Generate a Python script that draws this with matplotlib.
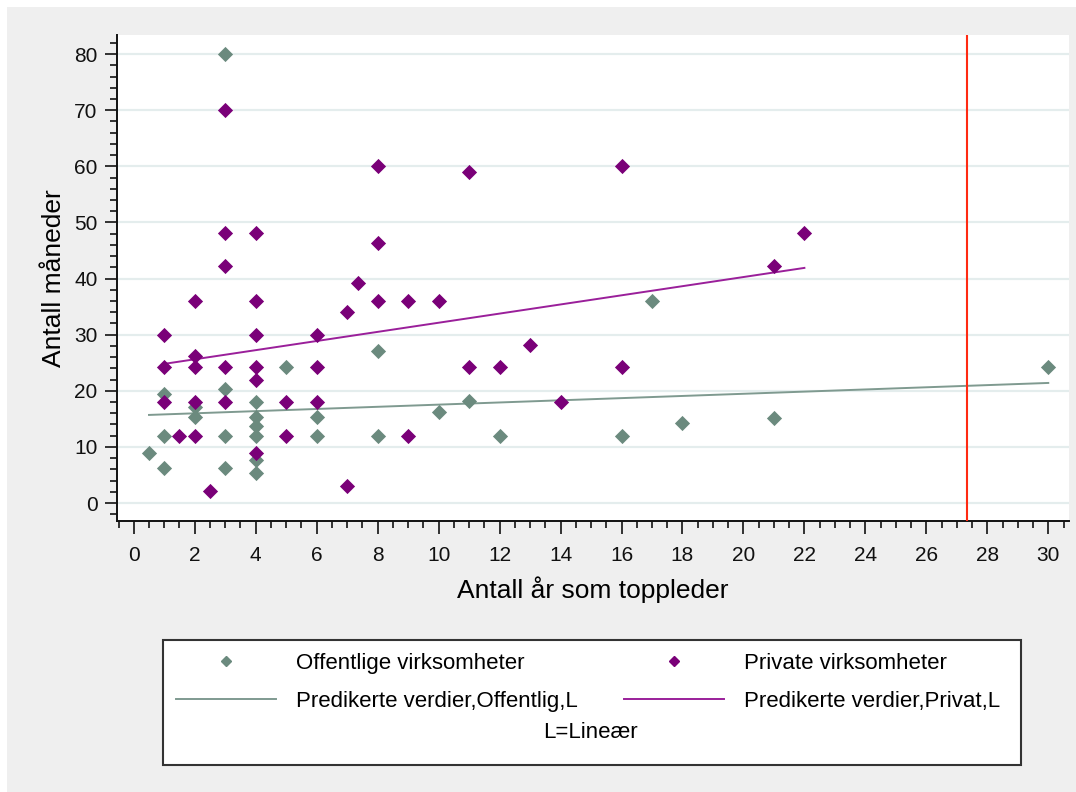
import matplotlib
matplotlib.use("Agg")
import matplotlib.pyplot as plt
from matplotlib.lines import Line2D
from matplotlib.patches import Rectangle
from matplotlib.ticker import MultipleLocator

plt.rcParams["font.family"] = ["Liberation Sans", "DejaVu Sans"]

# Offentlige virksomheter (public)
off_x = [0.5, 1, 1, 1, 2, 2, 3, 3, 3, 3, 4, 4, 4, 4, 4, 4, 5, 6, 6,
         8, 8, 10, 11, 12, 16, 17, 18, 21, 30]
off_y = [9, 19.4, 12, 6.2, 17.2, 15.3, 80, 20.3, 12, 6.2, 18, 15.3, 13.7, 12, 7.7, 5.3, 24.3, 15.3, 12,
         27.1, 12, 16.2, 18.2, 12, 12, 36, 14.3, 15.2, 24.3]

# Private virksomheter
priv_x = [1, 1, 1, 1.5, 2, 2, 2, 2, 2, 2.5, 3, 3, 3, 3, 3,
          4, 4, 4, 4, 4, 4, 5, 5, 6, 6, 6, 7, 7, 7.35,
          8, 8, 8, 9, 9, 10, 11, 11, 12, 13, 14, 16, 16, 21, 22]
priv_y = [30, 24.2, 18, 12, 36, 26.2, 24.2, 18, 12, 2.2, 70, 48.2, 42.3, 24.2, 18,
          48.2, 36, 30, 24.2, 22, 9, 18, 12, 30, 24.2, 18, 34, 3, 39.2,
          60, 46.4, 36, 36, 12, 36, 59, 24.3, 24.3, 28.2, 18, 60, 24.3, 42.3, 48.2]

# predicted (linear fit) lines, end points
fit_off_x = [0.5, 30]
fit_off_y = [15.7, 21.4]
fit_priv_x = [1, 22]
fit_priv_y = [24.8, 41.9]

ref_x = 27.35

OFF_COLOR = "#6b8a7e"
PRIV_COLOR = "#7a0078"
OFF_LINE = "#7f9a90"
PRIV_LINE = "#9a1f9a"
BG = "#efefef"

fig = plt.figure(figsize=(10.76, 7.92), dpi=100, facecolor="white")
fig.patches.append(Rectangle((7 / 1076, 0), 1, 1 - 7 / 792, transform=fig.transFigure,
                             facecolor=BG, edgecolor="none", zorder=-10))

ax = fig.add_axes([117 / 1076, 1 - 521 / 792, (1069 - 117) / 1076, (521 - 35) / 792])
ax.set_facecolor("white")

for y in range(0, 90, 10):
    ax.axhline(y, color="#e4eded", linewidth=1.6, zorder=0)

ax.plot(fit_off_x, fit_off_y, color=OFF_LINE, linewidth=1.4, zorder=2)
ax.plot(fit_priv_x, fit_priv_y, color=PRIV_LINE, linewidth=1.4, zorder=2)
ax.scatter(off_x, off_y, marker="D", s=60, color=OFF_COLOR, linewidths=0, zorder=3)
ax.scatter(priv_x, priv_y, marker="D", s=60, color=PRIV_COLOR, linewidths=0, zorder=3)
ax.axvline(ref_x, color="#ff2a12", linewidth=1.5, zorder=4)

ax.set_xlim(-0.55, 30.68)
ax.set_ylim(-3.2, 83.4)
ax.xaxis.set_major_locator(MultipleLocator(2))
ax.xaxis.set_minor_locator(MultipleLocator(0.5))
ax.yaxis.set_major_locator(MultipleLocator(10))
ax.yaxis.set_minor_locator(MultipleLocator(2))
ax.tick_params(axis="both", which="major", length=9, width=1.2, labelsize=15, colors="#111111")
ax.tick_params(axis="both", which="minor", length=5, width=1.1)
ax.tick_params(axis="x", which="major", pad=9)
ax.tick_params(axis="y", which="major", pad=5)

for side in ("top", "right"):
    ax.spines[side].set_visible(False)
for side in ("left", "bottom"):
    ax.spines[side].set_linewidth(1.4)
    ax.spines[side].set_color("#111111")

ax.set_xlabel("Antall år som toppleder", fontsize=19, labelpad=8)
ax.set_ylabel("Antall måneder", fontsize=19, labelpad=6)

# legend box
fig.patches.append(Rectangle((163 / 1076, 1 - 765 / 792), (1021 - 163) / 1076, (765 - 640) / 792,
                             transform=fig.transFigure, facecolor="white", edgecolor="#333333",
                             linewidth=1.5, zorder=1))

handles = [
    Line2D([], [], linestyle="none", marker="D", markersize=5, color=OFF_COLOR),
    Line2D([], [], color=OFF_LINE, linewidth=1.4),
    Line2D([], [], linestyle="none", marker="D", markersize=5, color=PRIV_COLOR),
    Line2D([], [], color=PRIV_LINE, linewidth=1.4),
]
labels = [
    "Offentlige virksomheter",
    "Predikerte verdier,Offentlig,L",
    "Private virksomheter",
    "Predikerte verdier,Privat,L",
]
fig.legend(handles, labels, ncol=2, loc="upper left",
           bbox_to_anchor=(176 / 1076, 1 - 653 / 792), frameon=False,
           fontsize=16, handlelength=4.5, handletextpad=0.9, columnspacing=2.1,
           borderpad=0, borderaxespad=0, labelspacing=0.75)
fig.text(590 / 1076, 1 - 733 / 792, "L=Lineær", fontsize=16, ha="center", va="center")

fig.savefig("out.png", dpi=100, facecolor=fig.get_facecolor())
